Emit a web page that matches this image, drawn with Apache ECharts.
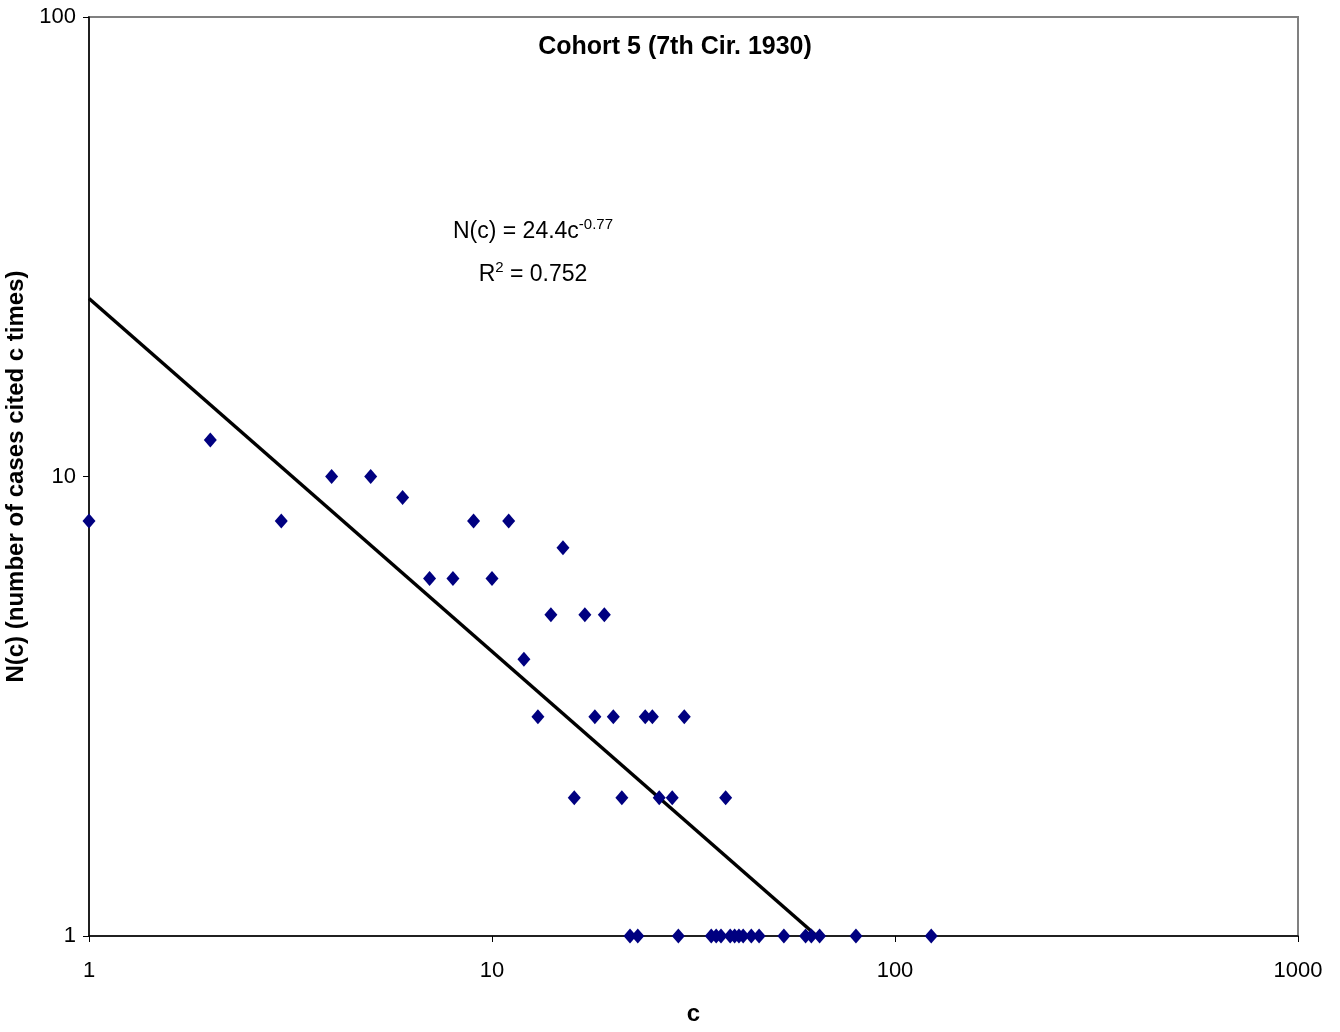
<!DOCTYPE html>
<html><head><meta charset="utf-8">
<script src="https://cdn.jsdelivr.net/npm/echarts@6/dist/echarts.min.js"></script>
<style>html,body{margin:0;padding:0;background:#fff}#c{width:1340px;height:1032px}</style>
</head><body><div id="c"></div>
<script>
// c = number of times cited
const citeCounts = [1,2,3,4,5,6,7,8,9,10,11,12,13,14,15,16,17,18,19,20,21,22,23,24,25,26,28,29,30,35,36,37,38,39,40,41,42,44,46,53,60,62,65,80,123];
// N(c) = number of cases cited c times
const caseCounts = [8,12,8,10,10,9,6,6,8,6,8,4,3,5,7,2,5,3,5,3,2,1,1,3,3,2,2,1,3,1,1,1,2,1,1,1,1,1,1,1,1,1,1,1,1];
// power trendline end points (log-log straight line)
const trendC = [1, 64];
const trendN = [24.4, 1];
const xTickLabels = ['1','10','100','1000'];
const yTickLabels = ['1','10','100'];
const titleText = 'Cohort 5 (7th Cir. 1930)';
const xName = 'c';
const yName = 'N(c) (number of cases cited c times)';

const FONT = '"Liberation Sans", Arial, sans-serif';
const chart = echarts.init(document.getElementById('c'), null, {renderer:'canvas'});
const points = citeCounts.map((c,i)=>[c, caseCounts[i]]);
const trend = trendC.map((c,i)=>[c, trendN[i]]);

chart.setOption({
  animation:false,
  backgroundColor:'#fff',
  title:{text:titleText, left:670, top:30, textAlign:'center',
    textStyle:{fontFamily:FONT, fontWeight:'bold', fontSize:25, color:'#000'}},
  grid:{left:89, right:42, top:17, bottom:96, show:true, borderColor:'#808080', borderWidth:2,
    backgroundColor:'transparent', containLabel:false, outerBoundsMode:'none'},
  xAxis:{type:'log', logBase:10, min:1, max:1000,
    name:xName, nameLocation:'middle', nameGap:66,
    nameTextStyle:{fontFamily:FONT, fontWeight:'bold', fontSize:24, color:'#000'},
    axisLine:{show:true, lineStyle:{color:'#000', width:1.5}},
    axisTick:{show:true, inside:false, length:6, lineStyle:{color:'#000'}},
    minorTick:{show:false}, splitLine:{show:false},
    axisLabel:{fontFamily:FONT, fontSize:22, color:'#000', margin:24,
      formatter:v=>{const i=Math.round(Math.log10(v)); return xTickLabels[i]||'';}}
  },
  yAxis:{type:'log', logBase:10, min:1, max:100,
    name:yName, nameLocation:'middle', nameGap:52, nameRotate:90,
    nameTextStyle:{fontFamily:FONT, fontWeight:'bold', fontSize:24, color:'#000'},
    axisLine:{show:true, lineStyle:{color:'#000', width:1.5}},
    axisTick:{show:true, inside:false, length:6, lineStyle:{color:'#000'}},
    minorTick:{show:false}, splitLine:{show:false},
    axisLabel:{fontFamily:FONT, fontSize:22, color:'#000', margin:13,
      formatter:v=>{const i=Math.round(Math.log10(v)); return yTickLabels[i]||'';}}
  },
  series:[
    {type:'line', data:trend, symbol:'none', lineStyle:{color:'#000', width:3.5}, z:3, silent:true},
    {type:'scatter', data:points, symbol:'diamond', symbolSize:[13,15],
     itemStyle:{color:'#000080', opacity:1}, z:4, clip:false}
  ],
  graphic:[
    {type:'text', style:{
      x:533, y:232, align:'center', verticalAlign:'middle',
      text:'{n|N(c) = 24.4c}{s|-0.77}',
      rich:{n:{fontFamily:FONT, fontSize:23, color:'#000'},
            s:{fontFamily:FONT, fontSize:15, color:'#000', padding:[0,0,14,0]}}
    }},
    {type:'text', style:{
      x:533, y:275, align:'center', verticalAlign:'middle',
      text:'{n|R}{s|2}{n| = 0.752}',
      rich:{n:{fontFamily:FONT, fontSize:23, color:'#000'},
            s:{fontFamily:FONT, fontSize:15, color:'#000', padding:[0,0,14,0]}}
    }}
  ]
});
</script></body></html>
